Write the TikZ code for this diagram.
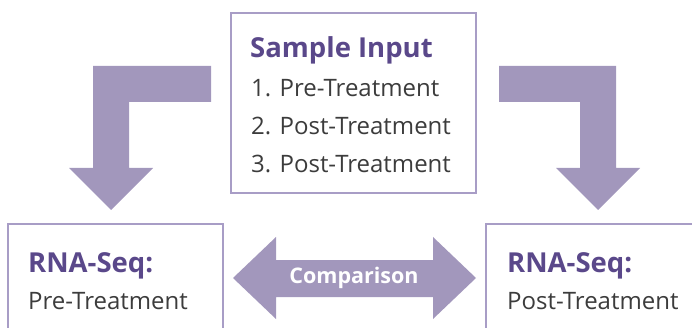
\documentclass[tikz,border=0pt]{standalone}
\usepackage{fontspec}
\setmainfont{Open Sans}
\usetikzlibrary{positioning}
\definecolor{seqpurple}{RGB}{90,72,138}
\definecolor{seqarrow}{RGB}{162,151,188}
\definecolor{seqframe}{RGB}{168,157,198}
\definecolor{seqgray}{RGB}{60,60,60}
\begin{document}
\begin{tikzpicture}[x=1pt, y=-1pt,
    frame/.style={draw=seqframe, line width=2.2pt, inner sep=0pt},
    headtxt/.style={anchor=base west, inner sep=0pt, text=seqpurple, font=\fontsize{27.5}{32}\selectfont\bfseries},
    bodytxt/.style={anchor=base west, inner sep=0pt, text=seqgray, font=\fontsize{24}{28}\selectfont},
    fatarrow/.style={fill=seqarrow, draw=none}]
        \useasboundingbox (0,0) rectangle (692,328);
        \clip (0,0) rectangle (692,328);

        % Boxes
        \node[frame, minimum width=245pt, minimum height=180pt] (input) at (353.5,103) {};
        \node[frame, minimum width=215pt, minimum height=120pt] (pre) at (115.5,284) {};
        \node[frame, minimum width=214pt, minimum height=120pt] (post) at (593,284) {};

        % Sample input text
        \node[headtxt] (inhead) at (250,58) {Sample Input};
        \node[bodytxt] (in1) at (251,97) {1. Pre-Treatment};
        \node[bodytxt] (in2) at (251,135) {2. Post-Treatment};
        \node[bodytxt] (in3) at (251,173) {3. Post-Treatment};

        % Result text
        \node[headtxt] (prehead) at (28,272) {RNA-Seq:};
        \node[bodytxt] (prebody) at (28,309) {Pre-Treatment};
        \node[headtxt] (posthead) at (507,272) {RNA-Seq:};
        \node[bodytxt] (postbody) at (507,309) {Post-Treatment};

        % Bent arrows
        \fill[fatarrow] (211,66) -- (93,66) -- (93,168) -- (69,168) -- (111,210)
            -- (153,168) -- (129,168) -- (129,102) -- (211,102) -- cycle;
        \fill[fatarrow] (499,66) -- (616,66) -- (616,168) -- (640,168) -- (598,210)
            -- (556,168) -- (580,168) -- (580,102) -- (499,102) -- cycle;

        % Comparison arrow
        \fill[fatarrow] (233,278) -- (276,237) -- (276,260) -- (433,260) -- (433,237)
            -- (476,278) -- (433,319) -- (433,297) -- (276,297) -- (276,319) -- cycle;
        \node[text=white, font=\fontsize{21.5}{26}\selectfont\bfseries] (compare) at (354,278) {Comparison};
\end{tikzpicture}
\end{document}
